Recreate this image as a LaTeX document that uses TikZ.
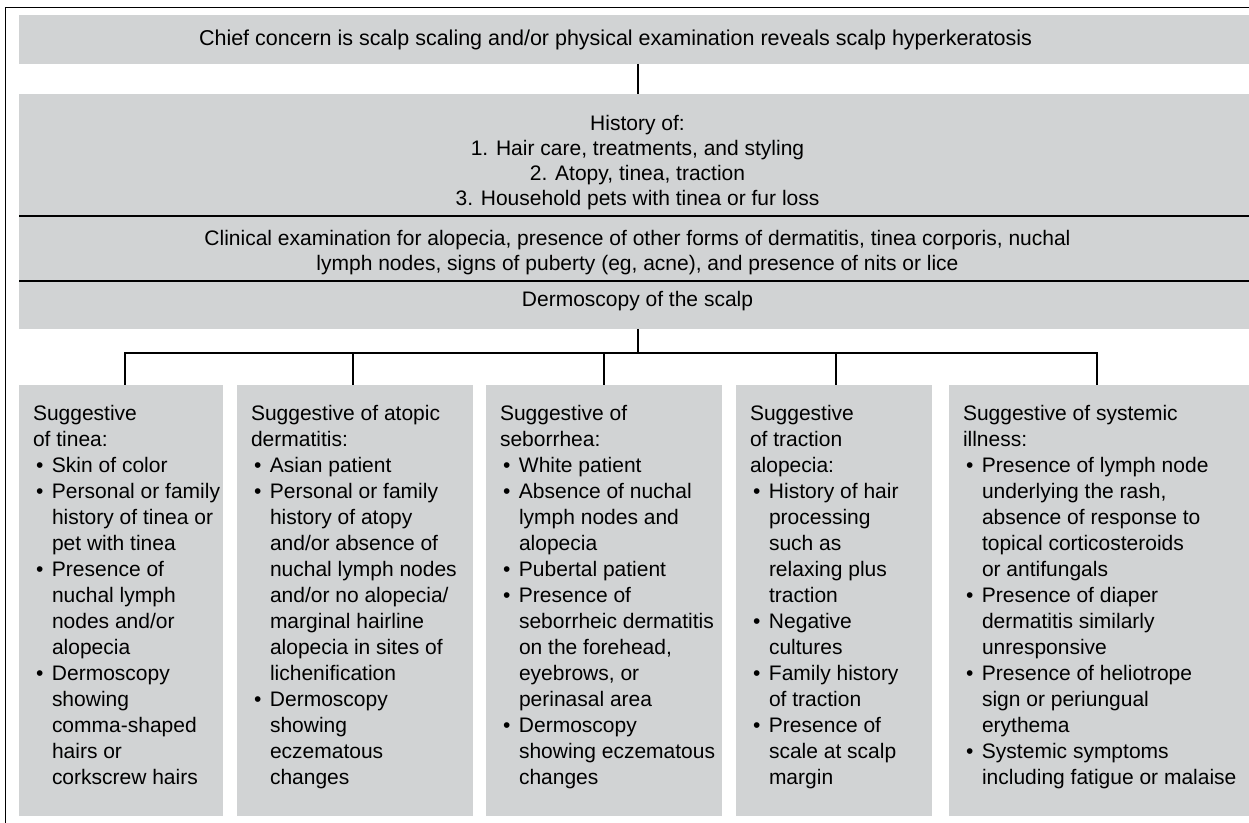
\documentclass[tikz,border=0pt]{standalone}
\usepackage{fontspec}
\setmainfont{Liberation Sans}
\usetikzlibrary{positioning}
\definecolor{boxgray}{RGB}{209,211,212}
\newcommand{\itm}{\par\hangindent=9.5pt\hangafter=1\makebox[9.5pt][l]{\hspace{1.5pt}\textbullet}}
\newcommand{\sugtext}[2]{\parbox[t][215.5pt][t]{#1}{\raggedright\let\\\newline\leftskip=7pt\hyphenpenalty=10000\rule{0pt}{18pt}#2}}

\begin{document}
\begin{tikzpicture}[
    x=0.5pt, y=-0.5pt,
    font=\fontsize{10.5pt}{13pt}\selectfont,
    hdr/.style ={
        fill=boxgray,
        minimum width=618.5pt,
        inner sep=0pt,
        outer sep=0pt,
        align=center,
        font=\fontsize{10.5pt}{12.5pt}\selectfont
    },
    sug/.style ={
        fill=boxgray,
        anchor=north west,
        inner sep=0pt,
        outer sep=0pt
    },
    conn/.style ={
        line width=1pt
    },
    divline/.style ={
        line width=0.75pt
    }
    ]
    \useasboundingbox (0,0) rectangle (1249,823);
    \clip (0,0) rectangle (1249,823);
    \draw[line width=0.65pt] (5.5,7.5) rectangle (1262,835);

    \node[hdr, minimum height=24.5pt, anchor=north west, font=\fontsize{10.75pt}{13pt}\selectfont] (concern) at (19,15)
        {Chief concern is scalp scaling and/or physical examination reveals scalp hyperkeratosis\hspace*{22pt}};
    \node[hdr, minimum height=61pt, below=15pt of concern] (history)
        {\rule{0pt}{15pt}History of:\\1. Hair care, treatments, and styling\\2. Atopy, tinea, traction\\3. Household pets with tinea or fur loss};
    \node[hdr, minimum height=32.5pt, below=0pt of history] (exam)
        {\rule{0pt}{11.5pt}Clinical examination for alopecia, presence of other forms of dermatitis, tinea corporis, nuchal\\lymph nodes, signs of puberty (eg, acne), and presence of nits or lice};
    \node[hdr, minimum height=24pt, text depth=6pt, below=0pt of exam] (dermo)
        {Dermoscopy of the scalp};

    \node[sug] (tinea) at (19,385) {\sugtext{102pt}{Suggestive\\of tinea:
        \itm Skin of color
        \itm Personal or family\\history of tinea or\\pet with tinea
        \itm Presence of\\nuchal lymph\\nodes and/or\\alopecia
        \itm Dermoscopy\\showing\\comma-shaped\\hairs or\\corkscrew hairs}};
    \node[sug] (atopic) at (237,385) {\sugtext{118pt}{Suggestive of atopic\\dermatitis:
        \itm Asian patient
        \itm Personal or family\\history of atopy\\and/or absence of\\nuchal lymph nodes\\and/or no alopecia/\\marginal hairline\\alopecia in sites of\\lichenification
        \itm Dermoscopy\\showing\\eczematous\\changes}};
    \node[sug] (seb) at (486,385) {\sugtext{118pt}{Suggestive of\\seborrhea:
        \itm White patient
        \itm Absence of nuchal\\lymph nodes and\\alopecia
        \itm Pubertal patient
        \itm Presence of\\seborrheic dermatitis\\on the forehead,\\eyebrows, or\\perinasal area
        \itm Dermoscopy\\showing eczematous\\changes}};
    \node[sug] (traction) at (736,385) {\sugtext{98pt}{Suggestive\\of traction\\alopecia:
        \itm History of hair\\processing\\such as\\relaxing plus\\traction
        \itm Negative\\cultures
        \itm Family history\\of traction
        \itm Presence of\\scale at scalp\\margin}};
    \node[sug] (systemic) at (949,385) {\sugtext{153.5pt}{Suggestive of systemic\\illness:
        \itm Presence of lymph node\\underlying the rash,\\absence of response to\\topical corticosteroids\\or antifungals
        \itm Presence of diaper\\dermatitis similarly\\unresponsive
        \itm Presence of heliotrope\\sign or periungual\\erythema
        \itm Systemic symptoms\\including fatigue or malaise}};

    \draw[divline] (history.south west) -- (history.south east);
    \draw[divline] (exam.south west) -- (exam.south east);

    \draw[conn] (concern) -- (history);
    \draw[conn] (dermo.south) -- ++(0,24) coordinate (hub);
    \draw[conn] ([xshift=2pt]tinea.north) |- (hub) -| ([xshift=-3pt]systemic.north);
    \foreach \n/\dx in {atopic/-1pt,seb/0pt,traction/1pt}
        \draw[conn] ([xshift=\dx]\n.north) -- ++(0,-32);
\end{tikzpicture}
\end{document}
